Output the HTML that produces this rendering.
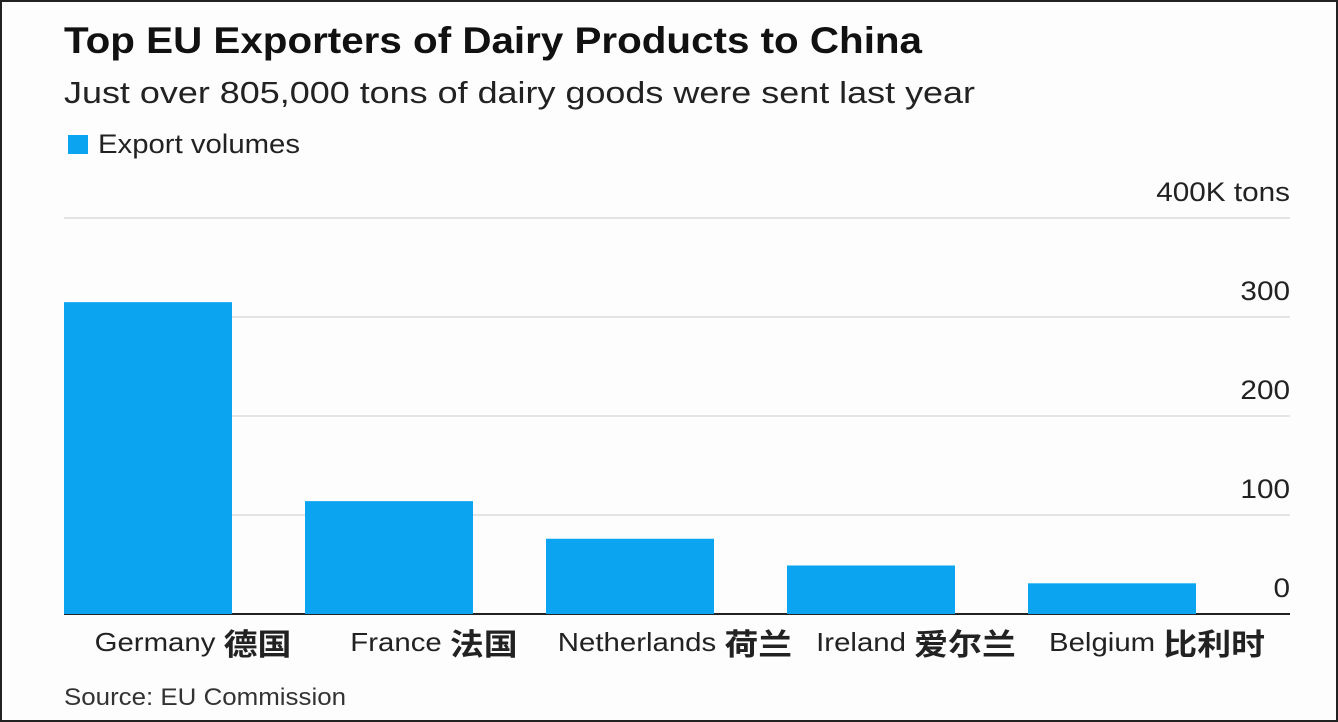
<!DOCTYPE html>
<html><head><meta charset="utf-8"><style>
html,body{margin:0;padding:0;background:#fff}
#wrap{position:relative;width:1338px;height:722px;box-sizing:border-box;border:2px solid #222;background:#fdfdfd;overflow:hidden;font-family:"Liberation Sans","Noto Sans CJK SC",sans-serif}
svg{position:absolute;left:-2px;top:-2px}
</style></head><body>
<div id="wrap">
<svg id="chart" width="1338" height="722">
<text x="64" y="53" font-size="37" font-weight="bold" fill="#111" textLength="858" lengthAdjust="spacingAndGlyphs">Top EU Exporters of Dairy Products to China</text>
<text x="64" y="103" font-size="31" fill="#222" textLength="911" lengthAdjust="spacingAndGlyphs">Just over 805,000 tons of dairy goods were sent last year</text>
<rect x="68" y="135" width="20" height="19" fill="#0aa4f0"/>
<text x="98" y="153" font-size="27" fill="#222" textLength="202" lengthAdjust="spacingAndGlyphs">Export volumes</text>
<g id="grid"></g><g id="bars"></g><g id="labels"></g>
<text x="64" y="705" font-size="24" fill="#333" textLength="282" lengthAdjust="spacingAndGlyphs">Source: EU Commission</text>
</svg>
</div>
<script>
const categories=["Germany","France","Netherlands","Ireland","Belgium"];
const cjkNames=["德国","法国","荷兰","爱尔兰","比利时"];
const values=[315,114,76,49,31];
const ticks=[0,100,200,300,400];
const tickLabels=["0","100","200","300","400K tons"];
const NS="http://www.w3.org/2000/svg";
const y0=614,pxPer=0.99,left=64,right=1290,step=241,bw=168;
const y=v=>y0-v*pxPer;
const x=i=>left+i*step;
function mk(t,a,p){const e=document.createElementNS(NS,t);for(const k in a)e.setAttribute(k,a[k]);p.appendChild(e);return e;}
const g=document.getElementById('grid');
ticks.forEach((t,i)=>{
  const l=mk('line',{x1:left,x2:right,y1:y(t),y2:y(t),stroke:t===0?'#222':'#ccc','stroke-width':t===0?2:1},g);
  
  
  const tx=mk('text',{x:1290,y:y(t)-17,'text-anchor':'end','font-size':27,fill:'#222'},g);
  tx.textContent=tickLabels[i];
  
  
  const w=tx.getComputedTextLength();
  tx.setAttribute('textLength',w*1.1);
  tx.setAttribute('lengthAdjust','spacingAndGlyphs');
});
const b=document.getElementById('bars'),lb=document.getElementById('labels');
values.forEach((v,i)=>{
  const r=mk('rect',{x:x(i),y:y(v),width:bw,height:y0-y(v),fill:'#0aa4f0'},b);
  
  
  const t=mk('text',{x:0,y:651,'font-size':26,fill:'#222'},lb);
  
  
  const s1=mk('tspan',{},t);s1.textContent=categories[i]+'  ';
  const s2=mk('tspan',{'font-weight':'bold','font-size':30,'font-family':'"Noto Sans CJK SC",sans-serif',dy:4},t);s2.textContent=cjkNames[i];
  const w=t.getComputedTextLength()*1.13;
  t.setAttribute('textLength',w);
  t.setAttribute('lengthAdjust','spacingAndGlyphs');
  t.setAttribute('x',x(i)+bw/2+45-w/2);
});
</script>
</body></html>
